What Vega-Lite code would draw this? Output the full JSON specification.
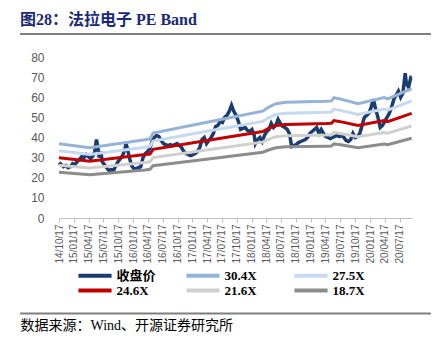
{
  "$schema": "https://vega.github.io/schema/vega-lite/v6.json",
  "autosize": "none",
  "width": 353,
  "height": 161,
  "padding": {"left": 59, "top": 57, "right": 34, "bottom": 136},
  "config": {
    "view": {"stroke": null},
    "axisX": {
      "format": "%y/%m/%d", "labelAngle": -90, "labelFontSize": 10, "labelFont": "Liberation Sans", "labelColor": "#595959",
      "labelPadding": 2, "labelFlush": false, "labelOverlap": false, "tickColor": "#BFBFBF", "tickSize": 4, "domainColor": "#BFBFBF", "grid": false,
      "titleX": -39, "titleY": 107, "titleAlign": "left", "titleAnchor": null, "titleAngle": 0, "titleBaseline": "middle",
      "titleFontSize": 14, "titleFont": "Liberation Serif, Noto Sans CJK SC", "titleFontWeight": "normal", "titleColor": "#000000"
    },
    "axisY": {
      "labelFontSize": 12, "labelFont": "Liberation Sans", "labelColor": "#595959", "labelPadding": 15,
      "labelOverlap": false, "domain": false, "ticks": false, "grid": false
    }
  },
  "title": {"text": "图28：法拉电子 PE Band", "anchor": "start", "frame": "group", "dx": -39, "offset": 5, "fontSize": 16, "font": "Liberation Serif, Noto Sans CJK SC", "fontWeight": "bold", "color": "#1A2A78"},
  "layer": [
    {
      "data": {"values": [
        {"d":"2014-10-17","p":27.5},{"d":"2014-10-31","p":26.5},{"d":"2014-11-14","p":25.5},{"d":"2014-11-28","p":26},
        {"d":"2014-12-12","p":25},{"d":"2014-12-26","p":25.5},{"d":"2015-01-09","p":27},{"d":"2015-01-23","p":26.5},
        {"d":"2015-02-06","p":28},{"d":"2015-02-20","p":29},{"d":"2015-03-06","p":30.5},{"d":"2015-03-20","p":30},
        {"d":"2015-04-03","p":31.5},{"d":"2015-04-17","p":30.5},{"d":"2015-05-01","p":29.5},{"d":"2015-05-15","p":31},
        {"d":"2015-05-25","p":33},{"d":"2015-06-05","p":39},{"d":"2015-06-12","p":36},{"d":"2015-06-22","p":30},
        {"d":"2015-07-03","p":33},{"d":"2015-07-10","p":28},{"d":"2015-07-24","p":26.5},{"d":"2015-08-07","p":25},
        {"d":"2015-08-21","p":23.5},{"d":"2015-09-04","p":24},{"d":"2015-09-18","p":23.5},{"d":"2015-10-02","p":26},
        {"d":"2015-10-16","p":28},{"d":"2015-10-30","p":29.5},{"d":"2015-11-13","p":31},{"d":"2015-11-27","p":34},
        {"d":"2015-12-04","p":37},{"d":"2015-12-11","p":35},{"d":"2015-12-25","p":30},{"d":"2016-01-08","p":26},
        {"d":"2016-01-22","p":24.5},{"d":"2016-02-05","p":24.5},{"d":"2016-02-19","p":25},{"d":"2016-03-04","p":25.5},
        {"d":"2016-03-18","p":30},{"d":"2016-04-01","p":32},{"d":"2016-04-15","p":33},{"d":"2016-04-29","p":34.5},
        {"d":"2016-05-13","p":38},{"d":"2016-05-27","p":40},{"d":"2016-06-10","p":41},{"d":"2016-06-24","p":40.5},
        {"d":"2016-07-08","p":38.5},{"d":"2016-07-22","p":37},{"d":"2016-08-05","p":36.5},{"d":"2016-08-19","p":36},
        {"d":"2016-09-02","p":36.5},{"d":"2016-09-16","p":36},{"d":"2016-09-30","p":36.5},{"d":"2016-10-14","p":37},
        {"d":"2016-10-28","p":36},{"d":"2016-11-11","p":35},{"d":"2016-11-25","p":33},{"d":"2016-12-09","p":32},
        {"d":"2016-12-23","p":31.5},{"d":"2017-01-06","p":31},{"d":"2017-01-20","p":31.5},{"d":"2017-02-03","p":32},
        {"d":"2017-02-17","p":33},{"d":"2017-03-03","p":35},{"d":"2017-03-17","p":39},{"d":"2017-03-31","p":40},
        {"d":"2017-04-14","p":37},{"d":"2017-04-28","p":38.5},{"d":"2017-05-12","p":40},{"d":"2017-05-26","p":42},
        {"d":"2017-06-09","p":45.5},{"d":"2017-06-23","p":46},{"d":"2017-07-07","p":48},{"d":"2017-07-21","p":47.5},
        {"d":"2017-08-04","p":50},{"d":"2017-08-18","p":51},{"d":"2017-09-01","p":53},{"d":"2017-09-15","p":56},
        {"d":"2017-09-29","p":53},{"d":"2017-10-13","p":51},{"d":"2017-10-27","p":48},{"d":"2017-11-10","p":44},
        {"d":"2017-11-24","p":44.5},{"d":"2017-12-08","p":45},{"d":"2017-12-22","p":43.5},{"d":"2018-01-05","p":43},
        {"d":"2018-01-19","p":44},{"d":"2018-02-02","p":41},{"d":"2018-02-09","p":37},{"d":"2018-02-23","p":39},
        {"d":"2018-03-09","p":40},{"d":"2018-03-23","p":38},{"d":"2018-04-06","p":41},{"d":"2018-04-20","p":43},
        {"d":"2018-05-04","p":44},{"d":"2018-05-18","p":47},{"d":"2018-06-01","p":45},{"d":"2018-06-15","p":46},
        {"d":"2018-06-29","p":49},{"d":"2018-07-13","p":47},{"d":"2018-07-27","p":45.5},{"d":"2018-08-10","p":45},
        {"d":"2018-08-24","p":44},{"d":"2018-09-07","p":42},{"d":"2018-09-21","p":35.5},{"d":"2018-10-05","p":36},
        {"d":"2018-10-19","p":36.5},{"d":"2018-11-02","p":37.5},{"d":"2018-11-16","p":38},{"d":"2018-11-30","p":38.5},
        {"d":"2018-12-14","p":39},{"d":"2018-12-28","p":40},{"d":"2019-01-11","p":42},{"d":"2019-01-25","p":43},
        {"d":"2019-02-08","p":44},{"d":"2019-02-22","p":45},{"d":"2019-03-08","p":42},{"d":"2019-03-22","p":44},
        {"d":"2019-04-05","p":42},{"d":"2019-04-19","p":40.5},{"d":"2019-05-03","p":40},{"d":"2019-05-17","p":39.5},
        {"d":"2019-05-31","p":40},{"d":"2019-06-14","p":40.5},{"d":"2019-06-28","p":41},{"d":"2019-07-12","p":40.5},
        {"d":"2019-07-26","p":41},{"d":"2019-08-09","p":40},{"d":"2019-08-23","p":38.5},{"d":"2019-09-06","p":38},
        {"d":"2019-09-20","p":39},{"d":"2019-10-04","p":42},{"d":"2019-10-18","p":40},{"d":"2019-11-01","p":40.5},
        {"d":"2019-11-15","p":42},{"d":"2019-11-29","p":46},{"d":"2019-12-13","p":50},{"d":"2019-12-27","p":51},
        {"d":"2020-01-10","p":52},{"d":"2020-01-24","p":55},{"d":"2020-02-07","p":59},{"d":"2020-02-21","p":54},
        {"d":"2020-03-06","p":50},{"d":"2020-03-20","p":45},{"d":"2020-04-03","p":46},{"d":"2020-04-17","p":48},
        {"d":"2020-05-01","p":50},{"d":"2020-05-15","p":52},{"d":"2020-05-29","p":55},{"d":"2020-06-12","p":59},
        {"d":"2020-06-26","p":61},{"d":"2020-07-10","p":63},{"d":"2020-07-24","p":60},{"d":"2020-08-07","p":62},
        {"d":"2020-08-21","p":72},{"d":"2020-08-28","p":67},{"d":"2020-09-11","p":65},{"d":"2020-09-25","p":70},
        {"d":"2020-09-30","p":70},
        {"d":"2014-10-17","b304":36.9,"b275":33.4,"b246":29.9,"b216":26.2,"b187":22.7},
        {"d":"2015-04-25","b304":34.9,"b275":31.6,"b246":28.2,"b216":24.8,"b187":21.5},
        {"d":"2016-03-31","b304":38.9,"b275":35.2,"b246":31.5,"b216":27.6,"b187":23.9},
        {"d":"2016-04-30","b304":39.3,"b275":35.6,"b246":31.8,"b216":27.9,"b187":24.2},
        {"d":"2016-05-19","b304":42.2,"b275":38.2,"b246":34.1,"b216":30.0,"b187":26.0},
        {"d":"2017-04-25","b304":47.7,"b275":43.2,"b246":38.6,"b216":33.9,"b187":29.3},
        {"d":"2018-03-26","b304":53.1,"b275":48.0,"b246":43.0,"b216":37.7,"b187":32.7},
        {"d":"2018-05-01","b304":55.0,"b275":49.8,"b246":44.5,"b216":39.1,"b187":33.8},
        {"d":"2018-06-15","b304":56.8,"b275":51.4,"b246":46.0,"b216":40.4,"b187":34.9},
        {"d":"2018-08-16","b304":57.5,"b275":52.0,"b246":46.5,"b216":40.9,"b187":35.4},
        {"d":"2019-04-20","b304":58.0,"b275":52.5,"b246":46.9,"b216":41.2,"b187":35.7},
        {"d":"2019-05-25","b304":58.2,"b275":52.7,"b246":47.1,"b216":41.4,"b187":35.8},
        {"d":"2019-06-08","b304":59.8,"b275":54.1,"b246":48.4,"b216":42.5,"b187":36.8},
        {"d":"2019-07-10","b304":59.3,"b275":53.6,"b246":48.0,"b216":42.1,"b187":36.5},
        {"d":"2019-11-04","b304":56.8,"b275":51.4,"b246":46.0,"b216":40.4,"b187":34.9},
        {"d":"2020-04-13","b304":59.8,"b275":54.1,"b246":48.4,"b216":42.5,"b187":36.8},
        {"d":"2020-05-05","b304":59.2,"b275":53.6,"b246":47.9,"b216":42.1,"b187":36.4},
        {"d":"2020-09-30","b304":64.3,"b275":58.2,"b246":52.0,"b216":45.7,"b187":39.6}
      ]},
      "transform": [
        {"fold": ["p", "b304", "b275", "b246", "b216", "b187"], "as": ["s", "v"]},
        {"filter": "isValid(datum.v)"}
      ],
      "encoding": {
        "x": {
          "field": "d", "type": "temporal",
          "title": "数据来源：Wind、开源证券研究所",
          "scale": {"domain": [{"year": 2014, "month": 10, "date": 17}, {"year": 2020, "month": 10, "date": 2}]},
          "axis": {
            "tickCount": 50,
            "values": [
              {"year": 2014, "month": 10, "date": 17}, {"year": 2015, "month": 1, "date": 17}, {"year": 2015, "month": 4, "date": 17}, {"year": 2015, "month": 7, "date": 17},
              {"year": 2015, "month": 10, "date": 17}, {"year": 2016, "month": 1, "date": 17}, {"year": 2016, "month": 4, "date": 17}, {"year": 2016, "month": 7, "date": 17},
              {"year": 2016, "month": 10, "date": 17}, {"year": 2017, "month": 1, "date": 17}, {"year": 2017, "month": 4, "date": 17}, {"year": 2017, "month": 7, "date": 17},
              {"year": 2017, "month": 10, "date": 17}, {"year": 2018, "month": 1, "date": 17}, {"year": 2018, "month": 4, "date": 17}, {"year": 2018, "month": 7, "date": 17},
              {"year": 2018, "month": 10, "date": 17}, {"year": 2019, "month": 1, "date": 17}, {"year": 2019, "month": 4, "date": 17}, {"year": 2019, "month": 7, "date": 17},
              {"year": 2019, "month": 10, "date": 17}, {"year": 2020, "month": 1, "date": 17}, {"year": 2020, "month": 4, "date": 17}, {"year": 2020, "month": 7, "date": 17}
            ]
          }
        },
        "y": {
          "field": "v", "type": "quantitative",
          "title": null,
          "scale": {"domain": [0, 80]},
          "axis": {"tickCount": 50, "values": [0, 10, 20, 30, 40, 50, 60, 70, 80]}
        },
        "color": {
          "field": "s", "type": "nominal",
          "scale": {"domain": ["p", "b304", "b275", "b246", "b216", "b187"], "range": ["#1A3C6E", "#95B3D7", "#C6D9F1", "#C00000", "#D0D0D0", "#8C8C8C"]},
          "legend": {
            "title": null,
            "orient": "none",
            "legendX": 23,
            "legendY": 212,
            "direction": "horizontal",
            "columns": 3,
            "gridAlign": "all",
            "columnPadding": 22,
            "rowPadding": -2,
            "padding": 0,
            "symbolType": "M-5,0H5",
            "symbolSize": 44,
            "symbolStrokeWidth": 4,
            "symbolOffset": 6.5,
            "labelOffset": 15,
            "labelFontSize": 13,
            "labelFont": "Liberation Serif, Noto Sans CJK SC",
            "labelFontWeight": "bold",
            "labelColor": "#000000",
            "labelLimit": 200,
            "labelExpr": "datum.value == 'p' ? '收盘价' : datum.value == 'b304' ? '30.4X' : datum.value == 'b275' ? '27.5X' : datum.value == 'b246' ? '24.6X' : datum.value == 'b216' ? '21.6X' : '18.7X'"
          }
        }
      },
      "layer": [
        {"transform": [{"filter": "datum.s == 'p'"}], "mark": {"type": "line", "strokeWidth": 3.5}},
        {"transform": [{"filter": "datum.s != 'p'"}], "mark": {"type": "line", "strokeWidth": 3}}
      ]
    },
    {
      "data": {"values": [{}]},
      "mark": {"type": "rule", "clip": false, "color": "#7F7F7F", "strokeWidth": 2},
      "encoding": {
        "x": {"datum": {"year": 2014, "month": 2, "date": 19}, "type": "temporal", "title": "数据来源：Wind、开源证券研究所"},
        "x2": {"datum": {"year": 2021, "month": 1, "date": 27}},
        "y": {"datum": -47.5, "type": "quantitative", "title": null}
      }
    },
    {
      "data": {"values": [{}]},
      "mark": {"type": "rect", "clip": false, "color": "#7F7F7F"},
      "encoding": {
        "x": {"datum": {"year": 2014, "month": 2, "date": 19}, "type": "temporal", "title": "数据来源：Wind、开源证券研究所"},
        "x2": {"datum": {"year": 2021, "month": 1, "date": 27}},
        "y": {"datum": 91.9, "type": "quantitative", "title": null},
        "y2": {"datum": 90.9}
      }
    }
  ]
}
